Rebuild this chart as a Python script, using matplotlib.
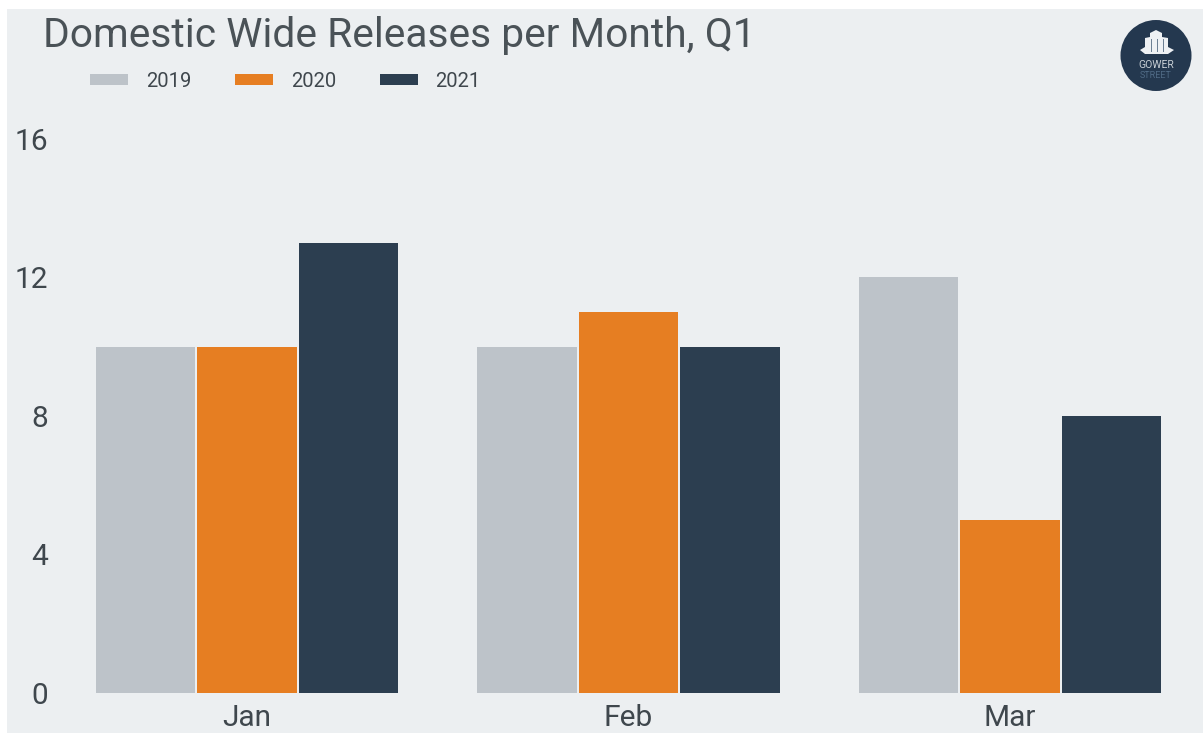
import numpy as np
import matplotlib
matplotlib.use("Agg")
import matplotlib.pyplot as plt
from matplotlib.patches import Rectangle, Circle, Polygon

months = ["Jan", "Feb", "Mar"]
years = ["2019", "2020", "2021"]
v2019 = [10, 10, 12]
v2020 = [10, 11, 5]
v2021 = [13, 10, 8]
y_ticks = [0, 4, 8, 12, 16]
title = "Domestic Wide Releases per Month, Q1"

W, H = 1203, 733
plt.rcParams["font.family"] = ["Roboto", "DejaVu Sans"]
fig = plt.figure(figsize=(W / 100, H / 100), dpi=100, facecolor="white")
fig.add_artist(Rectangle((7 / W, 0), 1 - 7 / W, 1 - 9 / H, transform=fig.transFigure,
                         fc="#ECEFF1", ec="none", zorder=-5))

ax = fig.add_axes([56.25 / W, (H - 692.6) / H, 1144.5 / W, 553.6 / H])
ax.patch.set_alpha(0)
x = np.arange(len(months))
step, width = 0.2665, 0.261
colors = ["#BDC3C9", "#E67E22", "#2C3E50"]
for i, (vals, yr, c) in enumerate(zip([v2019, v2020, v2021], years, colors)):
    ax.bar(x + (i - 1) * step, vals, width, color=c, label=yr, linewidth=0)
ax.set_xlim(-0.5, 2.5)
ax.set_ylim(0, 16)
ax.set_xticks(x, months)
ax.set_yticks(y_ticks)
ax.tick_params(length=0, colors="#3F474D")
ax.tick_params(axis="x", labelsize=21.5, pad=8)
ax.tick_params(axis="y", labelsize=21.5, pad=6)
for s in ax.spines.values():
    s.set_visible(False)

fig.text(43 / W, 1 - 47 / H, title, fontsize=29.3, color="#4A5257", fontweight="normal",
         ha="left", va="baseline")

fig.legend(loc="center left", bbox_to_anchor=(90 / W, 1 - 81.5 / H), ncol=3, frameon=False,
           fontsize=14.5, handlelength=1.89, handleheight=0.47, handletextpad=0.88,
           columnspacing=2.17, borderpad=0, borderaxespad=0, labelcolor="#3F474D")

# logo
def px(a, b):
    return (a / W, 1 - b / H)
fig.add_artist(Circle((1156, H - 55.5), 35.5, transform=None, fc="#24384F", ec="none"))
building = [(1140, 50), (1145, 47), (1145, 38), (1150, 37), (1150, 33), (1156, 30),
            (1162, 33), (1162, 37), (1168, 38), (1168, 47), (1174, 50), (1168, 54), (1145, 54)]
fig.add_artist(Polygon([px(*p) for p in building], transform=fig.transFigure,
                       fc="#EEF1F4", ec="none"))
for sx in (1150.5, 1157, 1163):
    fig.add_artist(Rectangle(px(sx, 52), 1.4 / W, 13 / H, transform=fig.transFigure,
                             fc="#6D8094", ec="none"))
fig.text(1156 / W, 1 - 65 / H, "GOWER", fontsize=7.5, color="#C9D0D6", ha="center", va="center")
fig.text(1156 / W, 1 - 75 / H, "STREET", fontsize=6.5, color="#4F6A85", ha="center", va="center")

fig.savefig("out.png", dpi=100, facecolor="white")
